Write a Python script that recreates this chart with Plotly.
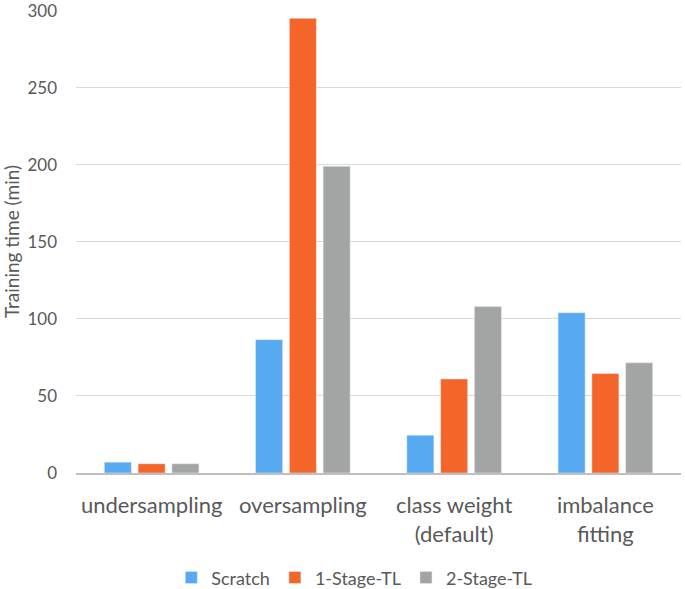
import plotly.graph_objects as go

categories = ["undersampling", "oversampling", "class weight<br>(default)", "imbalance<br>fitting"]
scratch = [7, 86.5, 24.5, 104]
stage1 = [6, 295, 61, 64.5]
stage2 = [6, 199, 108, 71.5]
y_ticks = [0, 50, 100, 150, 200, 250, 300]

font = "Lato"
fig = go.Figure()
fig.add_bar(name="Scratch", x=categories, y=scratch, marker_color="#57A9F1")
fig.add_bar(name="1-Stage-TL", x=categories, y=stage1, marker_color="#F4652A")
fig.add_bar(name="2-Stage-TL", x=categories, y=stage2, marker_color="#A2A5A4")

fig.update_layout(
    width=685, height=589,
    margin=dict(l=76, r=4, t=10, b=116),
    paper_bgcolor="white", plot_bgcolor="white",
    barmode="group", bargap=0.33, bargroupgap=0.2,
    font=dict(family=font, color="#595959"),
    legend=dict(orientation="h", x=0.46, xanchor="center", y=0.019, yanchor="middle",
                yref="container", font=dict(size=18, color="#595959"),
                itemwidth=30, traceorder="normal"),
    showlegend=True,
)
fig.update_yaxes(range=[0, 300.4], tickvals=y_ticks, showgrid=True, gridcolor="#D9D9D9",
                 tickfont=dict(size=17, color="#595959"), zeroline=False, automargin=False,
                 ticklabeloverflow="allow",
                 title=dict(text="Training time (min)", font=dict(size=19, color="#595959"), standoff=12),
                 ticks="", ticklabelstandoff=18)
fig.update_xaxes(showline=True, linecolor="#BFBFBF", linewidth=1.5, automargin=False,
                 tickfont=dict(size=22, color="#595959"), ticks="", ticklabelstandoff=12)
fig.write_html("out.html", config={"displayModeBar": False},
               post_script="document.body.style.margin='0';")
